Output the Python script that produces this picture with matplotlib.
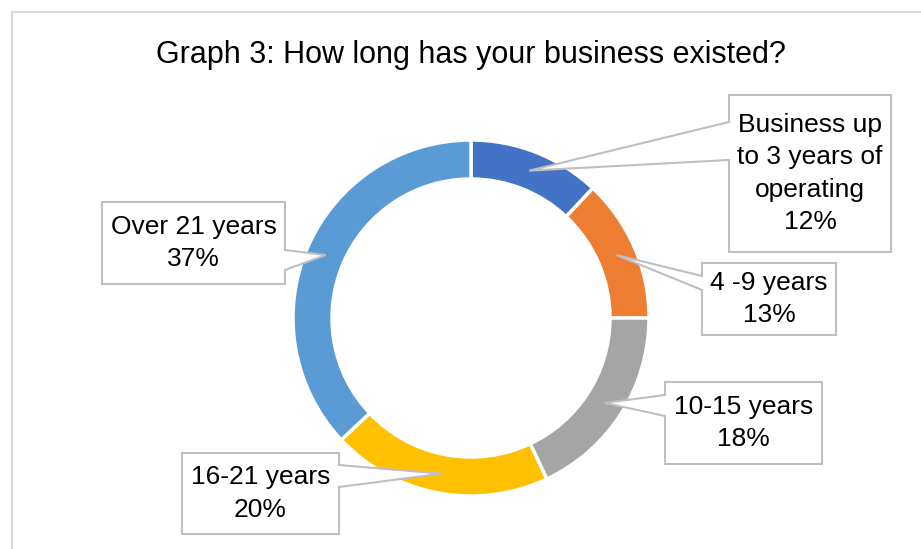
import matplotlib.pyplot as plt
from matplotlib.patches import Polygon
import numpy as np

plt.rcParams["font.family"] = ["Liberation Sans Narrow", "Liberation Sans", "DejaVu Sans"]

# survey answers, clockwise from 12 o'clock
categories = ["Business up\nto 3 years of\noperating", "4 -9 years", "10-15 years", "16-21 years", "Over 21 years"]
shares = [12, 13, 18, 20, 37]
colors = ["#4472C4", "#ED7D31", "#A5A5A5", "#FFC000", "#5B9BD5"]

W, H = 921, 549
fig = plt.figure(figsize=(W / 100, H / 100), dpi=100)
ax = fig.add_axes([0, 0, 1, 1])

# work in pixel units with y measured from the top
cx, cy = 471, 318
r_out, ring = 178, 39

ax.pie(shares, colors=colors, startangle=90, counterclock=False,
       center=(cx, H - cy), radius=r_out,
       wedgeprops=dict(width=ring, edgecolor="white", linewidth=2.5))
ax.set_xlim(0, W)
ax.set_ylim(0, H)
ax.set_aspect("equal")
ax.axis("off")

# outer chart border (only top and left are in view)
ax.plot([12, W], [H - 12, H - 12], color="#D9D9D9", lw=1.5)
ax.plot([12, 12], [H - 12, 0], color="#D9D9D9", lw=1.5)

ax.text(cx, H - 55, "Graph 3: How long has your business existed?",
        ha="center", va="center", fontsize=22)

# callout boxes: (x0, y0, x1, y1), pointer side, pointer base y-range
boxes = [
    ((729, 95, 891, 252), "left", (122, 160)),
    ((702, 263, 836, 335), "left", (276, 290)),
    ((665, 382, 822, 464), "left", (395, 416)),
    ((182, 453, 339, 534), "right", (465, 487)),
    ((102, 202, 285, 284), "right", (250, 270)),
]

total = sum(shares)
start = 90.0
r_tip = r_out - ring / 2
for cat, val, (box, side, (b0, b1)) in zip(categories, shares, boxes):
    sweep = 360.0 * val / total
    mid = np.deg2rad(start - sweep / 2)
    start -= sweep
    tx = cx + r_tip * np.cos(mid)
    ty = cy - r_tip * np.sin(mid)
    x0, y0, x1, y1 = box
    if side == "left":
        pts = [(x0, y0), (x1, y0), (x1, y1), (x0, y1), (x0, b1), (tx, ty), (x0, b0)]
    else:
        pts = [(x0, y0), (x1, y0), (x1, b0), (tx, ty), (x1, b1), (x1, y1), (x0, y1)]
    pts = [(px, H - py) for px, py in pts]
    ax.add_patch(Polygon(pts, closed=True, facecolor="white", edgecolor="#BFBFBF",
                         lw=1.5, zorder=5))
    ax.text((x0 + x1) / 2, H - (y0 + y1) / 2, f"{cat}\n{val}%", ha="center", va="center",
            fontsize=19, linespacing=1.45, zorder=6)

fig.savefig("out.png", dpi=100)
